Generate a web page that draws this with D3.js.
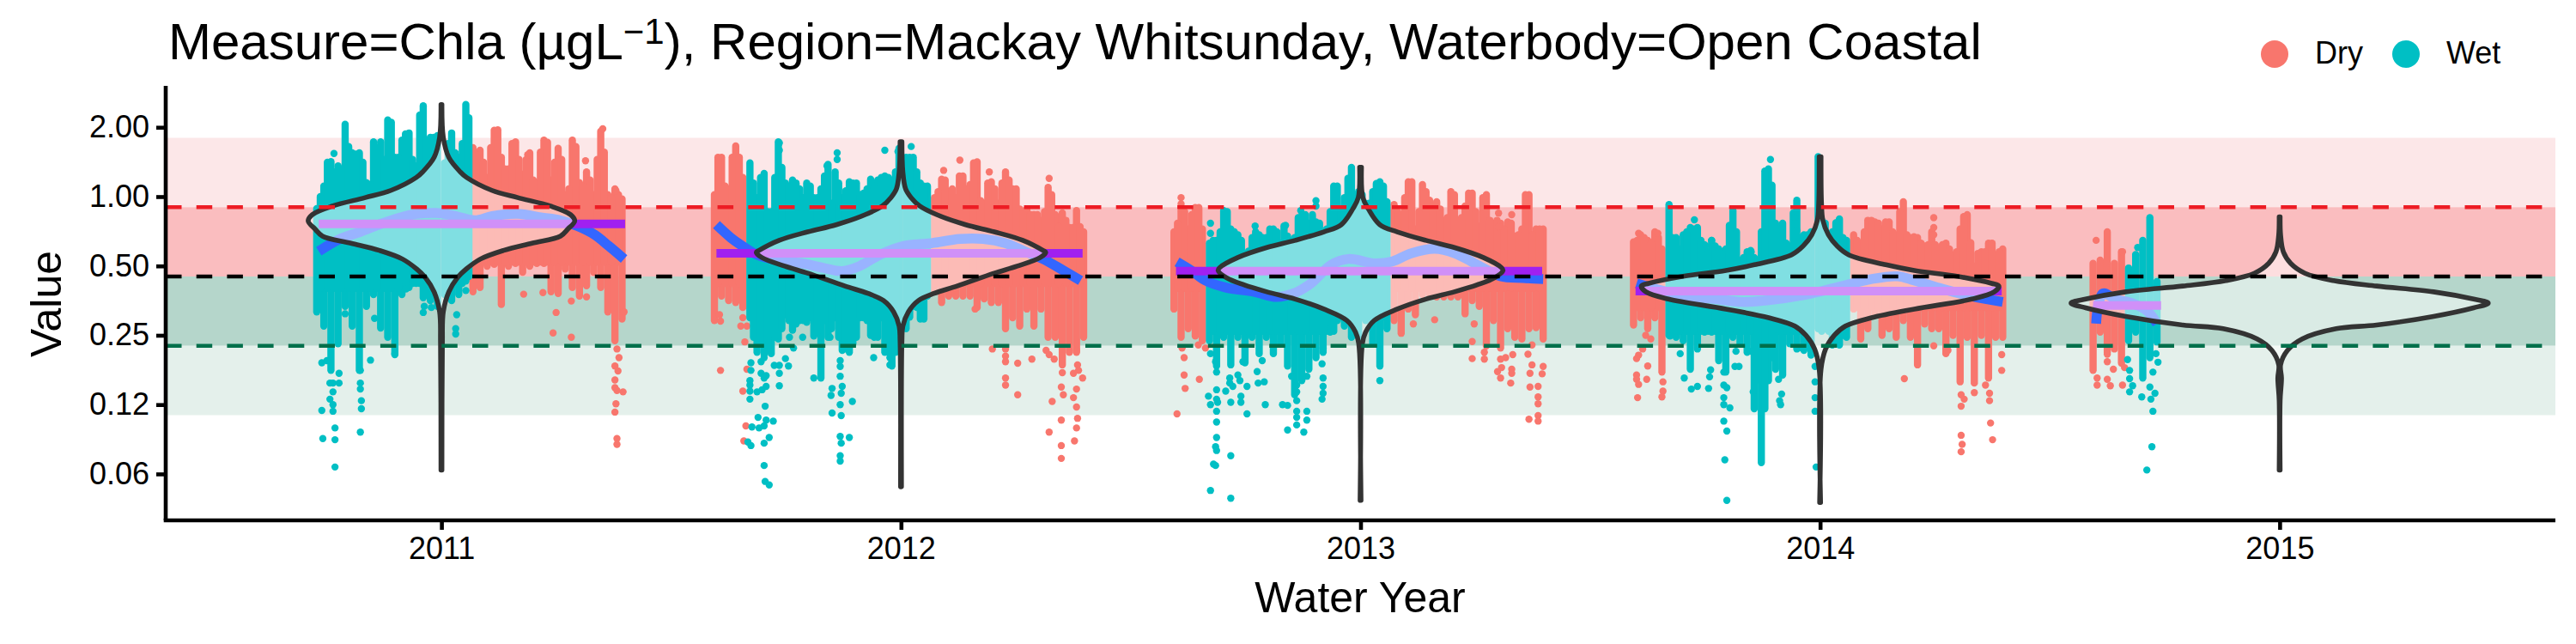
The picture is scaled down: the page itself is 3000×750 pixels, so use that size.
<!DOCTYPE html>
<html>
<head>
<meta charset="utf-8">
<style>
  body { margin: 0; background: #fff; }
  text { font-family: "Liberation Sans", Arial, sans-serif; fill: #000; }
</style>
<script src="https://d3js.org/d3.v7.min.js"></script>
</head>
<body>
<div id="chart"></div>
<script>
// axis ticks and guide values
var years = [2011, 2012, 2013, 2014, 2015];
var yTicks = [2, 1, 0.5, 0.25, 0.125, 0.0625];
var yTickLabels = ["2.00", "1.00", "0.50", "0.25", "0.12", "0.06"];
var bandEdges = [1.8, 0.9, 0.45, 0.225, 0.1125];
var guideValues = [0.9, 0.45, 0.225];
var seasons = ["Dry", "Wet"];

// daily samples: [day of water year, highest value, lowest value]
var dry2011 = [[215,1.63,.386],[222,1.59,.403],[229,1.21,.499],[236,1.94,.508],[243,1.48,.34],[250,1.32,.499],[257,1.73,.513],[264,1.25,.47],[271,1.55,.499],[278,1.15,.513],[285,1.76,.513],[292,1.18,.386],[299,1.62,.38],[306,1.02,.485],[313,1.76,.403],[320,1.15,.37],[327,1.28,.41],[334,1.02,.47],[341,1.92,.403],[348,1.02,.316],[355,1.08,.237],[362,.977,.294],
  [218.5,1.52,.52],[225.5,1.41,.52],[232.5,1.63,.52],[239.5,1.95,.52],[246.5,1.32,.52],[253.5,1.7,.52],[260.5,1.45,.52],[267.5,1.45,.52],[274.5,1.18,.52],[281.5,1.56,.52],[288.5,1.72,.52],[295.5,1.41,.52],[302.5,1.45,.52],[309.5,1.08,.52],[316.5,1.65,.52],[323.5,1.11,.52],[330.5,1.18,.52],[337.5,1.45,.52],[344.5,1.56,.52],[351.5,.99,.52],[358.5,1.02,.52]];
var wet2011 = [[61,.887,.316],[68,1.11,.274],[75,1.42,.176],[82,1.36,.23],[89,2.06,.334],[96,1.55,.274],[103,1.55,.176],[110,1.15,.334],[117,1.73,.376],[124,1.73,.269],[131,2.15,.245],[138,1.48,.206],[145,1.76,.376],[152,1.89,.403],[159,1.36,.42],[166,2.48,.364],[173,1.81,.354],[180,1.84,.334],[187,1.4,.376],[194,1.89,.354],[201,1.48,.376],[208,2.51,.43],
  [64.5,1.0,.4],[71.5,1.41,.4],[78.5,1.28,.4],[85.5,1.32,.4],[92.5,1.65,.4],[99.5,1.53,.4],[106.5,1.41,.4],[113.5,1.13,.4],[120.5,1.63,.4],[127.5,1.45,.4],[134.5,2.1,.4],[141.5,1.48,.4],[148.5,1.87,.42],[155.5,1.45,.42],[162.5,2.26,.42],[169.5,1.41,.42],[176.5,1.81,.42],[190.5,1.7,.42],[197.5,1.55,.42],[204.5,1.7,.42],[211,2.2,.45]];
var dry2012 = [[0,1.02,.29],[7,1.48,.37],[14,1.08,.354],[21,1.66,.347],[28,1.21,.33],[217,.99,.386],[224,1.19,.347],[231,1.05,.37],[238,.99,.37],[245,1.23,.37],[252,1.127,.37],[259,1.417,.33],[266,.936,.36],[273,1.16,.347],[280,.936,.347],[287,1.28,.267],[294,1.08,.298],[301,.884,.274],[308,.884,.325],[315,.835,.274],[322,.789,.325],[329,1.096,.245],[336,.835,.245],[343,.85,.186],[350,.734,.211],[357,.87,.211],[364,.703,.245],
  [3.5,1.48,.42],[10.5,1.11,.42],[17.5,1.48,.42],[24.5,1.48,.42],[220.5,1.05,.42],[227.5,1.18,.42],[234.5,1.08,.42],[241.5,1.23,.42],[248.5,1.08,.42],[255.5,1.40,.42],[262.5,.96,.42],[269.5,1.145,.42],[276.5,1.08,.42],[283.5,1.145,.42],[290.5,1.18,.42],[297.5,1.08,.42],[304.5,.86,.42],[311.5,.835,.42],[318.5,.835,.42],[325.5,.86,.42],[332.5,1.02,.42],[339.5,.74,.42],[346.5,.789,.42],[353.5,.734,.42],[360.5,.74,.42]];
var wet2012 = [[35,1.40,.298],[42,.99,.211],[49,1.26,.206],[56,.86,.208],[63,1.73,.241],[70,1.145,.307],[77,1.18,.263],[84,1.08,.29],[91,1.145,.285],[98,.99,.248],[105,1.08,.163],[112,1.38,.245],[119,1.28,.298],[126,.99,.215],[133,1.16,.211],[140,1.145,.245],[147,1.035,.298],[154,1.19,.25],[161,1.18,.245],[168,1.23,.211],[175,1.18,.184],[182,1.62,.267],[189,1.48,.267],[196,1.48,.334],[203,1.145,.294],[210,1.11,.37],
  [38.5,1.145,.245],[45.5,1.21,.23],[52.5,.86,.218],[59.5,1.21,.245],[66.5,1.34,.267],[73.5,1.11,.29],[80.5,1.145,.28],[87.5,.99,.29],[94.5,1.11,.298],[101.5,.99,.258],[108.5,1.23,.29],[115.5,.936,.267],[122.5,1.145,.245],[129.5,1.06,.218],[136.5,1.145,.23],[143.5,1.02,.298],[150.5,1.08,.29],[157.5,1.11,.245],[164.5,1.21,.298],[171.5,1.21,.211],[178.5,1.28,.211],[192.5,1.48,.3],[199.5,1.28,.33],[206.5,1.11,.294]];
var dry2013 = [[0,.703,.325],[7,.87,.245],[14,.723,.267],[21,.897,.248],[28,.723,.237],[217,.923,.29],[224,.835,.255],[231,1.16,.325],[238,.723,.307],[245,1.127,.376],[252,.964,.376],[259,.95,.367],[266,.789,.367],[273,1.05,.367],[280,.766,.367],[287,.91,.31],[294,1.035,.354],[301,.745,.334],[308,1.02,.225],[315,.766,.29],[322,.766,.22],[329,.777,.267],[336,.674,.245],[343,.723,.241],[350,1.02,.267],[357,.723,.27],[364,.723,.241],
  [3.5,.766,.4],[10.5,.86,.4],[17.5,.835,.4],[24.5,.897,.4],[220.5,.86,.4],[227.5,.99,.4],[234.5,1.16,.4],[241.5,.86,.4],[248.5,1.05,.4],[255.5,.86,.4],[262.5,.884,.4],[269.5,.81,.4],[276.5,1.02,.4],[283.5,.81,.4],[290.5,1.035,.4],[297.5,.86,.4],[304.5,.99,.4],[311.5,.789,.4],[318.5,.789,.4],[325.5,.723,.4],[332.5,.766,.4],[339.5,.683,.4],[346.5,1.02,.4],[353.5,.683,.4],[360.5,.723,.4]];
var wet2013 = [[35,.628,.237],[42,.646,.184],[49,.87,.245],[56,.723,.186],[63,.683,.245],[70,.559,.19],[77,.664,.245],[84,.683,.208],[91,.664,.245],[98,.723,.208],[105,.628,.23],[112,.674,.184],[119,.664,.138],[126,.823,.159],[133,.766,.178],[140,.777,.2],[147,.683,.211],[154,.86,.258],[161,1.11,.29],[168,.99,.274],[175,1.34,.245],[182,1.05,.245],[189,.936,.29],[196,1.05,.23],[203,1.16,.184],[210,.95,.267],
  [38.5,.646,.26],[45.5,.703,.26],[52.5,.86,.26],[59.5,.703,.26],[66.5,.646,.26],[73.5,.58,.26],[80.5,.703,.26],[87.5,.664,.26],[94.5,.723,.26],[101.5,.703,.26],[108.5,.745,.26],[115.5,.646,.26],[122.5,.81,.26],[129.5,.835,.26],[136.5,.835,.26],[143.5,.766,.26],[150.5,.723,.26],[157.5,1.11,.26],[164.5,.86,.3],[171.5,1.2,.3],[178.5,.96,.3],[185.5,1.02,.3],[192.5,.936,.3],[199.5,1.14,.3],[206.5,1.11,.3]];
var dry2014 = [[0,.636,.277],[7,.683,.298],[14,.646,.267],[21,.703,.298],[28,.593,.173],[217,.683,.325],[224,.61,.241],[231,.789,.267],[238,.777,.307],[245,.723,.25],[252,.777,.267],[259,.683,.245],[266,.95,.29],[273,.664,.245],[280,.664,.186],[287,.61,.28],[294,.703,.267],[301,.559,.267],[308,.628,.208],[315,.559,.25],[322,.723,.157],[329,.835,.245],[336,.499,.155],[343,.576,.25],[350,.628,.163],[357,.559,.245],[364,.593,.245],
  [3.5,.646,.33],[10.5,.664,.33],[17.5,.63,.33],[24.5,.664,.33],[220.5,.646,.33],[227.5,.703,.33],[234.5,.789,.33],[241.5,.766,.33],[248.5,.777,.33],[255.5,.703,.33],[262.5,.86,.33],[269.5,.683,.33],[276.5,.67,.33],[283.5,.628,.33],[290.5,.618,.33],[297.5,.618,.33],[304.5,.618,.33],[311.5,.593,.33],[318.5,.576,.33],[325.5,.82,.33],[332.5,.63,.33],[339.5,.567,.33],[346.5,.576,.33],[353.5,.628,.33],[360.5,.576,.33]];
var wet2014 = [[35,.923,.25],[42,.664,.245],[49,.683,.237],[56,.734,.178],[63,.734,.218],[70,.618,.258],[77,.646,.258],[84,.593,.194],[91,.593,.173],[98,.87,.245],[105,.528,.23],[112,.576,.211],[119,.544,.12],[126,.703,.07],[133,1.32,.159],[140,.766,.178],[147,.766,.168],[154,.61,.23],[161,.964,.218],[168,.683,.215],[175,.703,.205],[182,1.49,.267],[189,.766,.267],[196,.703,.227],[203,.8,.227],[210,.646,.245],
  [38.5,.664,.26],[45.5,.593,.26],[52.5,.703,.26],[59.5,.723,.26],[66.5,.646,.26],[73.5,.576,.26],[80.5,.61,.26],[87.5,.576,.26],[94.5,.75,.26],[101.5,.703,.26],[108.5,.544,.26],[115.5,.584,.26],[122.5,.528,.16],[129.5,1.29,.12],[136.5,1.12,.2],[143.5,.723,.26],[150.5,.628,.26],[157.5,.85,.26],[164.5,.664,.26],[171.5,.683,.26],[185.5,.789,.26],[192.5,.63,.26],[199.5,.77,.26],[206.5,.664,.26]];
var dry2015 = [[0,.513,.176],[7,.53,.258],[14,.703,.211],[21,.513,.218],[28,.576,.189]];
var wet2015 = [[35,.49,.237],[42,.56,.258],[49,.646,.163],[56,.81,.2],[63,.428,.234]];

// single readings that stand clear of the daily runs: [day, value]
var dryDots2011 = [[312,.352],[297,.314],[294,.256],[312,.245],[265,.377],[284,.383],[327,.367],[364,.316],[343,1.97],[326,1.43],[356,1.06],[269,1.52],[357,.218],[359,.2],[355,.184],[358,.175],[355,.16],[355,.148],[357,.144],[363,.142],[356,.126],[355,.116],[357,.089],[357,.084]];
var wetDots2011 = [[66,.118],[67,.089],[79,.099],[79,.088],[79,.067],[104,.095],[66,.19],[71,.194],[114,.195],[118,.296],[138,.208],[199,.307],[198,.267],[198,.253],[167,.334],[166,.314],[174,.33],[149,.397],[208,.391],[77,.155],[74,.155],[83,.155],[77,.142],[74,.132],[77,.125],[77,.117],[104,.155],[104,.146],[105,.13],[105,.12],[83,.171],[104,.176],[89,.31],[78,1.54]];
var dryDots2012 = [[6,.288],[5,.307],[28,.298],[26,.274],[32,.274],[30,.234],[6,.176],[32,.178],[28,.143],[31,.101],[29,.087],[226,1.30],[242,1.44],[271,1.28],[330,1.2],[257,.325],[287,.218],[287,.203],[287,.192],[287,.163],[287,.152],[299,.189],[299,.138],[313,.197],[274,.218],[327,.215],[330,.206],[335,.197],[343,.172],[342,.149],[344,.138],[333,.129],[342,.107],[330,.095],[342,.083],[342,.073],[358,.186],[359,.176],[354,.171],[363,.163],[357,.146],[354,.134],[357,.122],[358,.109],[357,.099],[355,.087],[357,.215]];
var wetDots2012 = [[36,.19],[36,.176],[46,.192],[49,.2],[59,.185],[64,.185],[70,.198],[73,.184],[64,.171],[46,.171],[51,.167],[49,.163],[35,.159],[35,.152],[51,.15],[47,.145],[42,.142],[35,.143],[35,.132],[64,.151],[50,.123],[43,.11],[51,.107],[58,.106],[37,.10],[44,.099],[49,.101],[54,.09],[49,.085],[33,.086],[36,.083],[49,.068],[50,.058],[54,.056],[98,.163],[116,.147],[115,.137],[116,.115],[124,.194],[124,.183],[124,.166],[126,.15],[125,.14],[124,.125],[125,.112],[136,.129],[124,.091],[133,.09],[125,.085],[124,.075],[124,.071],[157,.2],[173,.186],[173,.2],[87,.245],[78,.22],[74,.245],[114,.245],[64,1.71],[64,1.59],[121,1.55],[121,1.45],[111,1.36],[168,1.59],[194,1.65],[181,1.57]];
var dryDots2013 = [[8,.22],[10,.2],[10,.168],[25,.161],[11,.147],[3,.114],[24,.227],[31,.22],[7,.99],[7,.93],[236,.28],[257,.292],[296,.28],[294,.235],[294,.198],[306,.197],[306,.211],[322,.197],[327,.2],[334,.206],[323,.181],[333,.178],[333,.171],[319,.174],[322,.163],[332,.155],[349,.207],[353,.227],[353,.186],[351,.171],[364,.183],[363,.17],[351,.149],[359,.15],[359,.135],[359,.126],[350,.108],[359,.112],[359,.106],[320,.848],[320,.74],[333,.835]];
var wetDots2013 = [[36,.208],[41,.192],[42,.173],[55,.163],[63,.168],[55,.155],[58,.15],[65,.159],[72,.15],[51,.143],[42,.145],[42,.132],[34,.136],[43,.128],[36,.125],[42,.117],[56,.128],[66,.136],[66,.128],[72,.114],[90,.125],[42,.105],[42,.09],[41,.082],[42,.079],[56,.075],[39,.069],[41,.068],[36,.053],[56,.049],[83,.155],[89,.157],[82,.174],[87,.194],[68,.192],[107,.125],[112,.124],[131,.117],[131,.107],[112,.097],[128,.095],[147,.163],[147,.15],[147,.14],[146,.132],[146,.188],[147,.22],[147,.248],[154,.267],[203,.159],[121,.13],[121,.117],[121,.11],[121,.102],[121,.152],[121,.142],[116,.166],[131,.166],[36,.766],[36,.693],[80,.745],[110,.75],[140,.96],[140,.91],[125,.87],[62,.664]];
var dryDots2014 = [[12,.25],[17,.241],[9,.218],[5,.205],[3,.198],[14,.184],[3,.168],[3,.161],[5,.153],[13,.161],[4,.134],[29,.157],[29,.143],[28,.135],[24,.693],[5,.693],[296,.81],[296,.734],[296,.683],[267,.162],[296,.225],[310,.215],[363,.206],[363,.176],[347,.152],[336,.141],[351,.14],[351,.13],[323,.138],[326,.132],[323,.123],[352,.104],[354,.088],[323,.092],[324,.084],[323,.078]];
var wetDots2014 = [[36,.248],[46,.208],[50,.163],[57,.146],[63,.15],[74,.147],[75,.165],[76,.177],[101,.213],[100,.183],[104,.183],[89,.152],[92,.148],[89,.134],[89,.125],[95,.121],[89,.106],[92,.096],[90,.072],[92,.048],[143,.161],[146,.139],[144,.13],[145,.125],[179,.183],[179,.157],[179,.134],[179,.117],[180,.067],[207,.25],[166,.22],[116,.213],[118,.142],[89,.173],[135,1.45],[60,.793],[71,.612],[77,.646],[84,.584],[116,.576],[159,.813],[161,.713],[202,.78]];
var dryDots2015 = [[4,.163],[4,.152],[14,.207],[14,.192],[20,.178],[14,.161],[17,.151],[29,.152],[31,.181],[3,.646],[29,.576]];
var wetDots2015 = [[34,.196],[36,.176],[36,.162],[39,.151],[36,.142],[48,.135],[57,.132],[61,.14],[56,.149],[59,.117],[58,.082],[53,.065],[64,.191],[62,.208],[59,.173],[44,.601],[42,.556]];

// yearly means
var yearMeans = [.762, .567, .475, .389, .337];
var meanDays = [[63,365],[2,363],[2,363],[2,363],[0,67]];

// smoothed trend: [day, value]
var trend2011 = [[63,.579],[84,.655],[104,.703],[126,.766],[152,.83],[166,.847],[183,.847],[200,.818],[217,.789],[234,.823],[259,.842],[282,.812],[301,.789],[318,.745],[335,.683],[349,.61],[364,.536]];
var trend2012 = [[2,.755],[16,.664],[30,.601],[42,.559],[64,.528],[87,.513],[107,.491],[126,.475],[143,.499],[163,.559],[186,.61],[214,.628],[242,.655],[265,.655],[287,.628],[307,.576],[324,.536],[344,.478],[361,.432]];
var trend2013 = [[3,.521],[17,.478],[31,.432],[51,.403],[79,.386],[101,.367],[118,.38],[135,.42],[155,.506],[172,.536],[198,.513],[214,.521],[234,.567],[257,.593],[277,.567],[299,.506],[322,.451],[344,.443],[364,.439]];
var trend2014 = [[3,.42],[17,.403],[51,.37],[79,.36],[107,.349],[130,.354],[169,.375],[200,.403],[234,.438],[260,.451],[277,.432],[305,.397],[333,.37],[364,.349]];
var trend2015 = [[3,.281],[5,.334],[10,.38],[22,.359],[39,.344],[53,.32],[63,.281]];

// violin outlines: [value, half width in years]
var violin2011 = [[2.51,.001],[1.81,.004],[1.48,.016],[1.28,.041],[1.21,.055],[1.064,.11],[.99,.166],[.91,.237],[.835,.281],[.784,.29],[.723,.275],[.674,.259],[.628,.197],[.584,.135],[.536,.085],[.485,.054],[.445,.035],[.386,.016],[.316,.004],[.23,.002],[.065,.001]];
var violin2012 = [[1.73,.002],[1.28,.004],[1.08,.01],[.99,.022],[.91,.041],[.835,.078],[.755,.141],[.703,.203],[.646,.265],[.584,.309],[.573,.315],[.544,.303],[.499,.253],[.465,.203],[.409,.122],[.38,.072],[.354,.038],[.316,.016],[.274,.004],[.237,.002],[.055,.001]];
var violin2013 = [[1.34,.002],[.99,.005],[.884,.017],[.755,.042],[.703,.08],[.646,.142],[.601,.204],[.544,.267],[.491,.307],[.478,.31],[.445,.292],[.414,.254],[.386,.204],[.359,.142],[.325,.08],[.29,.03],[.258,.011],[.23,.004],[.048,.001]];
var violin2014 = [[1.49,.002],[.936,.003],[.789,.006],[.683,.018],[.61,.037],[.559,.062],[.506,.143],[.478,.205],[.451,.298],[.42,.373],[.409,.389],[.386,.379],[.359,.33],[.325,.205],[.298,.112],[.274,.055],[.25,.031],[.218,.012],[.178,.002],[.047,.001]];
var violin2015 = [[.816,.001],[.683,.002],[.576,.008],[.513,.024],[.465,.055],[.432,.117],[.409,.211],[.386,.335],[.359,.422],[.345,.454],[.329,.422],[.302,.335],[.277,.211],[.267,.123],[.241,.049],[.215,.017],[.186,.002],[.163,.004],[.13,.001],[.065,.001]];

var dryByYear = [dry2011, dry2012, dry2013, dry2014, dry2015];
var wetByYear = [wet2011, wet2012, wet2013, wet2014, wet2015];
var dryDotsByYear = [dryDots2011, dryDots2012, dryDots2013, dryDots2014, dryDots2015];
var wetDotsByYear = [wetDots2011, wetDots2012, wetDots2013, wetDots2014, wetDots2015];
var trendByYear = [trend2011, trend2012, trend2013, trend2014, trend2015];
var violinByYear = [violin2011, violin2012, violin2013, violin2014, violin2015];

var svgwidth = 3000;
var svgheight = 750;
var margin = { top: 100, right: 24, bottom: 144, left: 193 };

var dryColour = "#F8766D";
var wetColour = "#00BFC4";
var bandColours = ["#FCE7E8", "#FABDBF", "#B5D6CB", "#E4F0EB"];
var guideColours = ["#ED1C24", "#000000", "#006F4B"];

var svg = d3.select("#chart")
    .append("svg")
    .attr("width", svgwidth)
    .attr("height", svgheight)
    .style("display", "block");

var xscale = d3.scaleLinear()
    .domain([2010.4, 2015.6])
    .range([margin.left, svgwidth - margin.right]);

var yscale = d3.scaleLog()
    .base(2)
    .domain([0.0393, 3.026])
    .range([svgheight - margin.bottom, margin.top]);

// a water year spans about 0.81 of a tick step, starting 0.406 before the tick
function dayX(year, day) {
    return xscale(year - 0.406 + day * 0.81 / 367);
}

// bands
svg.append("g").selectAll("rect")
    .data(bandColours)
    .enter()
    .append("rect")
    .attr("x", margin.left)
    .attr("width", xscale.range()[1] - margin.left)
    .attr("y", (d, i) => yscale(bandEdges[i]))
    .attr("height", (d, i) => yscale(bandEdges[i + 1]) - yscale(bandEdges[i]))
    .attr("fill", d => d);

// readings
function drawReadings(rows, dots, year, colour) {
    var g = svg.append("g");
    g.selectAll("line")
        .data(rows)
        .enter()
        .append("line")
        .attr("x1", d => dayX(year, d[0]))
        .attr("x2", d => dayX(year, d[0]))
        .attr("y1", d => yscale(d[1]))
        .attr("y2", d => yscale(d[2]))
        .attr("stroke", colour)
        .attr("stroke-width", 8.4)
        .attr("stroke-linecap", "round");
    g.selectAll("circle")
        .data(dots)
        .enter()
        .append("circle")
        .attr("cx", d => dayX(year, d[0]))
        .attr("cy", d => yscale(d[1]))
        .attr("r", 4.2)
        .attr("fill", colour);
}

years.forEach(function(year, i) {
    drawReadings(dryByYear[i], dryDotsByYear[i], year, dryColour);
    drawReadings(wetByYear[i], wetDotsByYear[i], year, wetColour);
});

// trend lines and means
var trendLine = d3.line().curve(d3.curveCatmullRom);

years.forEach(function(year, i) {
    svg.append("path")
        .attr("d", trendLine(trendByYear[i].map(d => [dayX(year, d[0]), yscale(d[1])])))
        .attr("fill", "none")
        .attr("stroke", "#3366FF")
        .attr("stroke-width", 11.5);
    svg.append("line")
        .attr("x1", dayX(year, meanDays[i][0]))
        .attr("x2", dayX(year, meanDays[i][1]))
        .attr("y1", yscale(yearMeans[i]))
        .attr("y2", yscale(yearMeans[i]))
        .attr("stroke", "#A020F0")
        .attr("stroke-width", 10);
});

// violins
years.forEach(function(year, i) {
    var area = d3.area()
        .curve(d3.curveCatmullRom)
        .y(d => yscale(d[0]))
        .x0(d => xscale(year - d[1]))
        .x1(d => xscale(year + d[1]));
    svg.append("path")
        .attr("d", area(violinByYear[i]))
        .attr("fill", "#fff")
        .attr("fill-opacity", 0.5)
        .attr("stroke", "#333333")
        .attr("stroke-width", 5.6)
        .attr("stroke-linejoin", "round");
});

// guide lines
svg.append("g").selectAll("line")
    .data(guideValues)
    .enter()
    .append("line")
    .attr("x1", margin.left)
    .attr("x2", xscale.range()[1])
    .attr("y1", d => yscale(d))
    .attr("y2", d => yscale(d))
    .attr("stroke", (d, i) => guideColours[i])
    .attr("stroke-width", 4.6)
    .attr("stroke-dasharray", "18.5,17.2");

// axes
var xAxis = d3.axisBottom(xscale).tickValues(years).tickFormat(d3.format("d")).tickSize(11).tickPadding(8);
var yAxis = d3.axisLeft(yscale).tickValues(yTicks).tickFormat((d, i) => yTickLabels[i]).tickSize(11).tickPadding(8);

var xg = svg.append("g").attr("transform", `translate(0,${svgheight - margin.bottom})`).call(xAxis);
var yg = svg.append("g").attr("transform", `translate(${margin.left},0)`).call(yAxis);

[xg, yg].forEach(function(g) {
    g.selectAll("path").attr("stroke", "#000").attr("stroke-width", 4.6).attr("d", null);
    g.selectAll("line").attr("stroke", "#000").attr("stroke-width", 4.6);
    g.selectAll("text").attr("font-size", 36).attr("font-family", "Liberation Sans").attr("fill", "#000");
});
svg.append("line").attr("x1", margin.left - 2.3).attr("x2", xscale.range()[1])
    .attr("y1", svgheight - margin.bottom).attr("y2", svgheight - margin.bottom)
    .attr("stroke", "#000").attr("stroke-width", 4.6);
svg.append("line").attr("x1", margin.left).attr("x2", margin.left)
    .attr("y1", margin.top).attr("y2", svgheight - margin.bottom)
    .attr("stroke", "#000").attr("stroke-width", 4.6);

// titles
var title = svg.append("text")
    .attr("x", 196)
    .attr("y", 69)
    .attr("font-size", 60);
title.append("tspan").text("Measure=Chla (\u00B5gL");
title.append("tspan").attr("dy", -18).attr("font-size", 42).text("\u22121");
title.append("tspan").attr("dy", 18).text("), Region=Mackay Whitsunday, Waterbody=Open Coastal");

svg.append("text")
    .attr("x", 1584)
    .attr("y", 713)
    .attr("text-anchor", "middle")
    .attr("font-size", 50)
    .text("Water Year");

svg.append("text")
    .attr("transform", "translate(71,354) rotate(-90)")
    .attr("text-anchor", "middle")
    .attr("font-size", 50)
    .text("Value");

// legend
var legendX = [2649, 2802];
svg.append("g").selectAll("circle")
    .data(seasons)
    .enter()
    .append("circle")
    .attr("cx", (d, i) => legendX[i])
    .attr("cy", 63)
    .attr("r", 16)
    .attr("fill", (d, i) => i == 0 ? dryColour : wetColour);
svg.append("g").selectAll("text")
    .data(seasons)
    .enter()
    .append("text")
    .attr("x", (d, i) => legendX[i] + 47)
    .attr("y", 74)
    .attr("font-size", 36)
    .text(d => d);
</script>
</body>
</html>
